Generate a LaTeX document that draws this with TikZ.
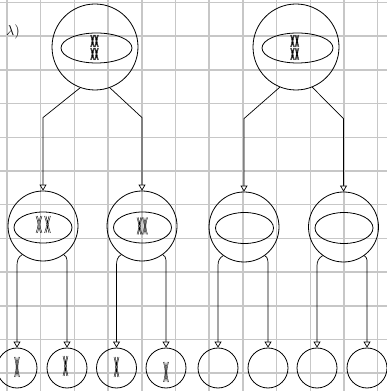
\documentclass[tikz,border=0pt]{standalone}
\usepackage{tikz}
\usepackage{xcolor}
\usetikzlibrary{shapes.geometric,arrows.meta}
\tikzset{cell/.style = {shape=circle,draw,inner sep=0pt,line width=0.8pt}}
\tikzset{nucleus/.style = {shape=ellipse,draw,inner sep=0pt,line width=0.8pt}}
\tikzset{edge/.style = {-{Triangle[fill=white,length=6pt,width=7pt]},line width=0.7pt}}
\tikzset{gridline/.style = {draw=black!22,line width=1.5pt}}
\tikzset{chromo/.pic = {
    \draw[line width=0.4pt] (-0.5,0.5) .. controls (-0.05,0) .. (-0.5,-0.5)
        (0.5,0.5) .. controls (0.05,0) .. (0.5,-0.5)
        (-0.25,0.5) .. controls (0.1,0) .. (-0.25,-0.5)
        (0.25,0.5) .. controls (-0.1,0) .. (0.25,-0.5);}}

\begin{document}
\begin{tikzpicture}[x=1pt,y=1pt]
		\useasboundingbox (0,0) rectangle (387,391);
		% grid
		\foreach \i in {0,...,11} {
			\draw[gridline] (7+33.7*\i,0) -- (7+33.7*\i,391);
			\draw[gridline] (0,388.5-33.7*\i) -- (387,388.5-33.7*\i);
		}
		\node (lbl) at (13,359.5) {\Large$\lambda$)};
		% cells
		\node[cell,minimum size=86pt] (t1) at (95,344) {};
		\node[cell,minimum size=86pt] (t2) at (296,344) {};
		\node[cell,minimum size=70pt] (m1) at (43,165) {};
		\node[cell,minimum size=70pt] (m2) at (142,165) {};
		\node[cell,minimum size=70pt] (m3) at (244,164) {};
		\node[cell,minimum size=70pt] (m4) at (343.5,164) {};
		\node[cell,minimum size=40pt] (b1) at (17,23) {};
		\node[cell,minimum size=40pt] (b2) at (67,23) {};
		\node[cell,minimum size=40pt] (b3) at (116.5,23) {};
		\node[cell,minimum size=40pt] (b4) at (166,23) {};
		\node[cell,minimum size=40pt] (b5) at (218,23) {};
		\node[cell,minimum size=40pt] (b6) at (268,23) {};
		\node[cell,minimum size=40pt] (b7) at (317,23) {};
		\node[cell,minimum size=40pt] (b8) at (367,23) {};
		% nuclei
		\node[nucleus,minimum width=71pt,minimum height=30pt] (n1) at (96.5,343) {};
		\node[nucleus,minimum width=71pt,minimum height=30pt] (n2) at (297.5,343) {};
		\node[nucleus,minimum width=58pt,minimum height=31pt] (n3) at (43,163.5) {};
		\node[nucleus,minimum width=58pt,minimum height=31pt] (n4) at (142.5,163.5) {};
		\node[nucleus,minimum width=58pt,minimum height=31pt] (n5) at (244.5,163) {};
		\node[nucleus,minimum width=58pt,minimum height=31pt] (n6) at (344,163) {};
		% chromosomes
		\pic[xscale=4,yscale=12] at ([xshift=-2.5pt,yshift=6pt]t1.center) {chromo};
		\pic[xscale=4,yscale=12] at ([xshift=1.5pt,yshift=6pt]t1.center) {chromo};
		\pic[xscale=4,yscale=12] at ([xshift=-2.5pt,yshift=-7pt]t1.center) {chromo};
		\pic[xscale=4,yscale=12] at ([xshift=1.5pt,yshift=-7pt]t1.center) {chromo};
		\pic[xscale=4,yscale=12] at ([xshift=-3.5pt,yshift=6pt]t2.center) {chromo};
		\pic[xscale=4,yscale=12] at ([xshift=1pt,yshift=6pt]t2.center) {chromo};
		\pic[xscale=4,yscale=12] at ([xshift=-3.5pt,yshift=-7pt]t2.center) {chromo};
		\pic[xscale=4,yscale=12] at ([xshift=1pt,yshift=-7pt]t2.center) {chromo};
		\pic[xscale=6,yscale=17] at ([xshift=-4pt,yshift=1.5pt]m1.center) {chromo};
		\pic[xscale=6,yscale=17] at ([xshift=4.5pt,yshift=1.5pt]m1.center) {chromo};
		\pic[xscale=5,yscale=17] at ([xshift=-2.5pt]m2.center) {chromo};
		\pic[xscale=5,yscale=17] at ([xshift=3pt]m2.center) {chromo};
		\pic[xscale=5,yscale=20] at ([yshift=1pt]b1.center) {chromo};
		\pic[xscale=5,yscale=20] at ([xshift=-1.5pt,yshift=2pt]b2.center) {chromo};
		\pic[xscale=5,yscale=20] at ([yshift=1pt]b3.center) {chromo};
		\pic[xscale=5,yscale=20] at ([yshift=-4pt]b4.center) {chromo};
		% edges
		\draw[edge] (t1.250) -- ([yshift=73pt]m1.north) -- (m1.north);
		\draw[edge] (t1.290) -- ([yshift=73pt]m2.north) -- (m2.north);
		\draw[edge] (t2.248) -- ([yshift=73pt]m3.north) -- (m3.north);
		\draw[edge] (t2.292) -- ([yshift=73pt]m4.north) -- (m4.north);
		\draw[edge] (m1.234) to[out=210,in=90] ([yshift=82pt]b1.north) -- (b1.north);
		\draw[edge] (m1.306) to[out=-30,in=90] ([yshift=82pt]b2.north) -- (b2.north);
		\draw[edge] (m2.234) to[out=210,in=90] ([yshift=82pt]b3.north) -- (b3.north);
		\draw[edge] (m2.306) to[out=-30,in=90] ([yshift=82pt]b4.north) -- (b4.north);
		\draw[edge] (m3.234) to[out=210,in=90] ([yshift=82pt]b5.north) -- (b5.north);
		\draw[edge] (m3.306) to[out=-30,in=90] ([yshift=82pt]b6.north) -- (b6.north);
		\draw[edge] (m4.234) to[out=210,in=90] ([yshift=82pt]b7.north) -- (b7.north);
		\draw[edge] (m4.306) to[out=-30,in=90] ([yshift=82pt]b8.north) -- (b8.north);
	\end{tikzpicture}
\end{document}
